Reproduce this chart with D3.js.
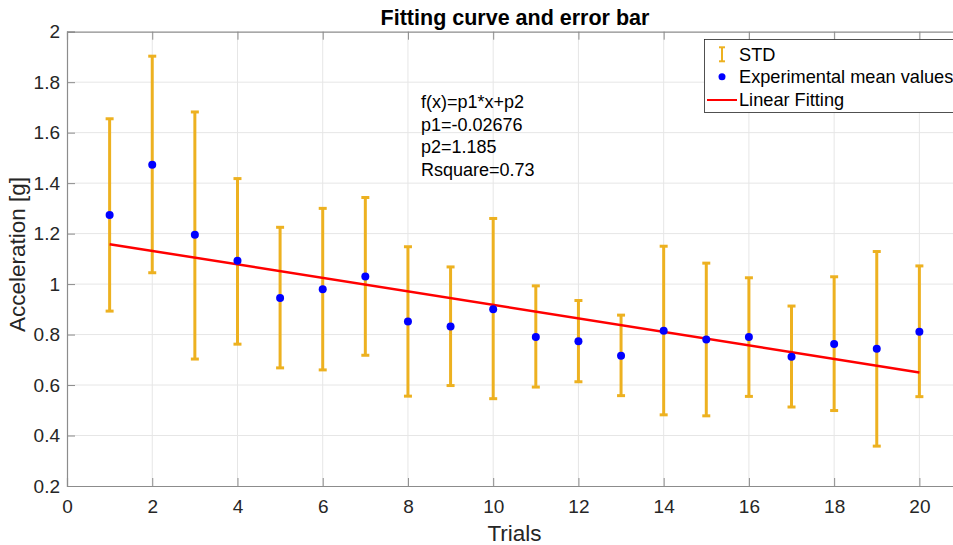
<!DOCTYPE html>
<html>
<head>
<meta charset="utf-8">
<script src="https://cdnjs.cloudflare.com/ajax/libs/d3/7.8.5/d3.min.js"></script>
<style>
  body { margin: 0; background: #fff; }
  svg { font-family: "Liberation Sans", Arial, sans-serif; }
</style>
</head>
<body>
<div id="chart"></div>
<script>
// data
var trials = [1, 2, 3, 4, 5, 6, 7, 8, 9, 10, 11, 12, 13, 14, 15, 16, 17, 18, 19, 20];
var meanValues = [1.274, 1.473, 1.195, 1.092, 0.945, 0.980, 1.030, 0.852, 0.832, 0.900,
                  0.790, 0.774, 0.716, 0.815, 0.780, 0.790, 0.712, 0.763, 0.744, 0.811];
var upperValues = [1.655, 1.903, 1.682, 1.418, 1.225, 1.300, 1.343, 1.148, 1.068, 1.260,
                   0.993, 0.935, 0.877, 1.150, 1.083, 1.025, 0.913, 1.029, 1.129, 1.072];
var lowerValues = [0.893, 1.045, 0.703, 0.762, 0.668, 0.660, 0.718, 0.556, 0.598, 0.546,
                   0.592, 0.613, 0.558, 0.482, 0.478, 0.555, 0.513, 0.499, 0.358, 0.554];
var fitParams = {p1: -0.02676, p2: 1.185};
var xTicks = [0, 2, 4, 6, 8, 10, 12, 14, 16, 18, 20];
var yTicks = [0.2, 0.4, 0.6, 0.8, 1, 1.2, 1.4, 1.6, 1.8, 2];
var fitText = ["f(x)=p1*x+p2", "p1=-0.02676", "p2=1.185", "Rsquare=0.73"];
var legendLabels = ["STD", "Experimental mean values", "Linear Fitting"];

function init()
{
  var width = 953, height = 545;
  var left = 67, top = 31.7, right = 962, bottom = 486;

  var svg = d3.select("#chart")
    .append("svg")
    .attr("width", width)
    .attr("height", height);

  var xScale = d3.scaleLinear().domain([0, 21]).range([left, right]);
  var yScale = d3.scaleLinear().domain([0.2, 2]).range([bottom, top]);

  var dataset = trials.map(function(t, i) {
    return {trial: t, mean: meanValues[i], hi: upperValues[i], lo: lowerValues[i]};
  });

  // grid
  svg.append("g").selectAll("line")
    .data(xTicks.slice(1))
    .enter().append("line")
      .attr("x1", function(d) {return xScale(d);})
      .attr("x2", function(d) {return xScale(d);})
      .attr("y1", top)
      .attr("y2", bottom)
      .style("stroke", "#e6e6e6")
      .style("stroke-width", "1");

  svg.append("g").selectAll("line")
    .data(yTicks.slice(1, -1))
    .enter().append("line")
      .attr("x1", left)
      .attr("x2", right)
      .attr("y1", function(d) {return yScale(d);})
      .attr("y2", function(d) {return yScale(d);})
      .style("stroke", "#e6e6e6")
      .style("stroke-width", "1");

  // axes (ticks inward, box)
  var xAxis = d3.axisBottom(xScale).tickValues(xTicks).tickSize(-8).tickPadding(14)
    .tickFormat(d3.format("d"));
  var yAxis = d3.axisLeft(yScale).tickValues(yTicks).tickSize(-8).tickPadding(7)
    .tickFormat(function(d) {return d3.format("~g")(d);});
  var xTop = d3.axisTop(xScale).tickValues(xTicks).tickSize(-8).tickFormat("");

  var gx = svg.append("g")
    .attr("transform", "translate(0," + bottom + ")")
    .call(xAxis);
  var gy = svg.append("g")
    .attr("transform", "translate(" + left + ",0)")
    .call(yAxis);
  var gt = svg.append("g")
    .attr("transform", "translate(0," + top + ")")
    .call(xTop);

  [gx, gy, gt].forEach(function(g) {
    g.selectAll("path").style("stroke", "#8c8c8c").style("stroke-width", "1.2");
    g.selectAll("line").style("stroke", "#8c8c8c");
    g.selectAll("text")
      .style("font-family", "'Liberation Sans', Arial, sans-serif")
      .style("font-size", "19px")
      .style("fill", "#262626");
  });
  gx.selectAll("text").attr("dy", "0.71em");

  // error bars
  var bars = svg.append("g");
  bars.selectAll(".stem")
    .data(dataset)
    .enter().append("line")
      .attr("x1", function(d) {return xScale(d.trial);})
      .attr("x2", function(d) {return xScale(d.trial);})
      .attr("y1", function(d) {return yScale(d.hi);})
      .attr("y2", function(d) {return yScale(d.lo);})
      .style("stroke", "#EDB120")
      .style("stroke-width", "3");

  ["hi", "lo"].forEach(function(k) {
    bars.selectAll(".cap-" + k)
      .data(dataset)
      .enter().append("line")
        .attr("x1", function(d) {return xScale(d.trial) - 4;})
        .attr("x2", function(d) {return xScale(d.trial) + 4;})
        .attr("y1", function(d) {return yScale(d[k]);})
        .attr("y2", function(d) {return yScale(d[k]);})
        .style("stroke", "#EDB120")
        .style("stroke-width", "3");
  });

  // fit line
  var fitData = [trials[0], trials[trials.length - 1]].map(function(t) {
    return {trial: t, v: fitParams.p1 * t + fitParams.p2};
  });
  var line = d3.line()
    .x(function(d) {return xScale(d.trial);})
    .y(function(d) {return yScale(d.v);});
  svg.append("path")
    .datum(fitData)
    .attr("d", line)
    .style("fill", "none")
    .style("stroke", "#FF0000")
    .style("stroke-width", "2.5");

  // mean points
  svg.append("g").selectAll("circle")
    .data(dataset)
    .enter().append("circle")
      .attr("cx", function(d) {return xScale(d.trial);})
      .attr("cy", function(d) {return yScale(d.mean);})
      .attr("r", 4)
      .attr("fill", "#0000FF");

  // fit annotation
  svg.append("g").selectAll("text")
    .data(fitText)
    .enter().append("text")
      .attr("x", 421)
      .attr("y", function(d, i) {return 108 + i * 22.6;})
      .style("font-size", "18px")
      .style("fill", "#000")
      .text(function(d) {return d;});

  // legend
  var legend = svg.append("g");
  legend.append("rect")
    .attr("x", 704.5)
    .attr("y", 39.5)
    .attr("width", 260)
    .attr("height", 73)
    .style("fill", "#fff")
    .style("stroke", "#262626")
    .style("stroke-width", "0.8");

  var ly = [54.3, 76.7, 100];
  // STD symbol
  legend.append("line").attr("x1", 722).attr("x2", 722).attr("y1", ly[0] - 7).attr("y2", ly[0] + 7)
    .style("stroke", "#EDB120").style("stroke-width", "2");
  legend.append("line").attr("x1", 719).attr("x2", 725).attr("y1", ly[0] - 7).attr("y2", ly[0] - 7)
    .style("stroke", "#EDB120").style("stroke-width", "2");
  legend.append("line").attr("x1", 719).attr("x2", 725).attr("y1", ly[0] + 7).attr("y2", ly[0] + 7)
    .style("stroke", "#EDB120").style("stroke-width", "2");
  legend.append("circle").attr("cx", 722).attr("cy", ly[1]).attr("r", 3.5).attr("fill", "#0000FF");
  legend.append("line").attr("x1", 707).attr("x2", 737).attr("y1", ly[2]).attr("y2", ly[2])
    .style("stroke", "#FF0000").style("stroke-width", "2");

  legend.selectAll(".lbl")
    .data(legendLabels)
    .enter().append("text")
      .attr("x", 739)
      .attr("y", function(d, i) {return ly[i];})
      .attr("dy", "0.35em")
      .style("font-size", "18.2px")
      .style("fill", "#000")
      .text(function(d) {return d;});

  // title and labels
  svg.append("text")
    .attr("x", 515)
    .attr("y", 25)
    .style("text-anchor", "middle")
    .style("font-size", "21.5px")
    .style("font-weight", "bold")
    .style("fill", "#000")
    .text("Fitting curve and error bar");

  svg.append("text")
    .attr("x", 514.5)
    .attr("y", 541)
    .style("text-anchor", "middle")
    .style("font-size", "22.5px")
    .style("fill", "#262626")
    .text("Trials");

  svg.append("text")
    .attr("transform", "translate(25,254.5) rotate(-90)")
    .style("text-anchor", "middle")
    .style("font-size", "22.5px")
    .style("fill", "#262626")
    .text("Acceleration [g]");
}

window.onload = init;
</script>
</body>
</html>
